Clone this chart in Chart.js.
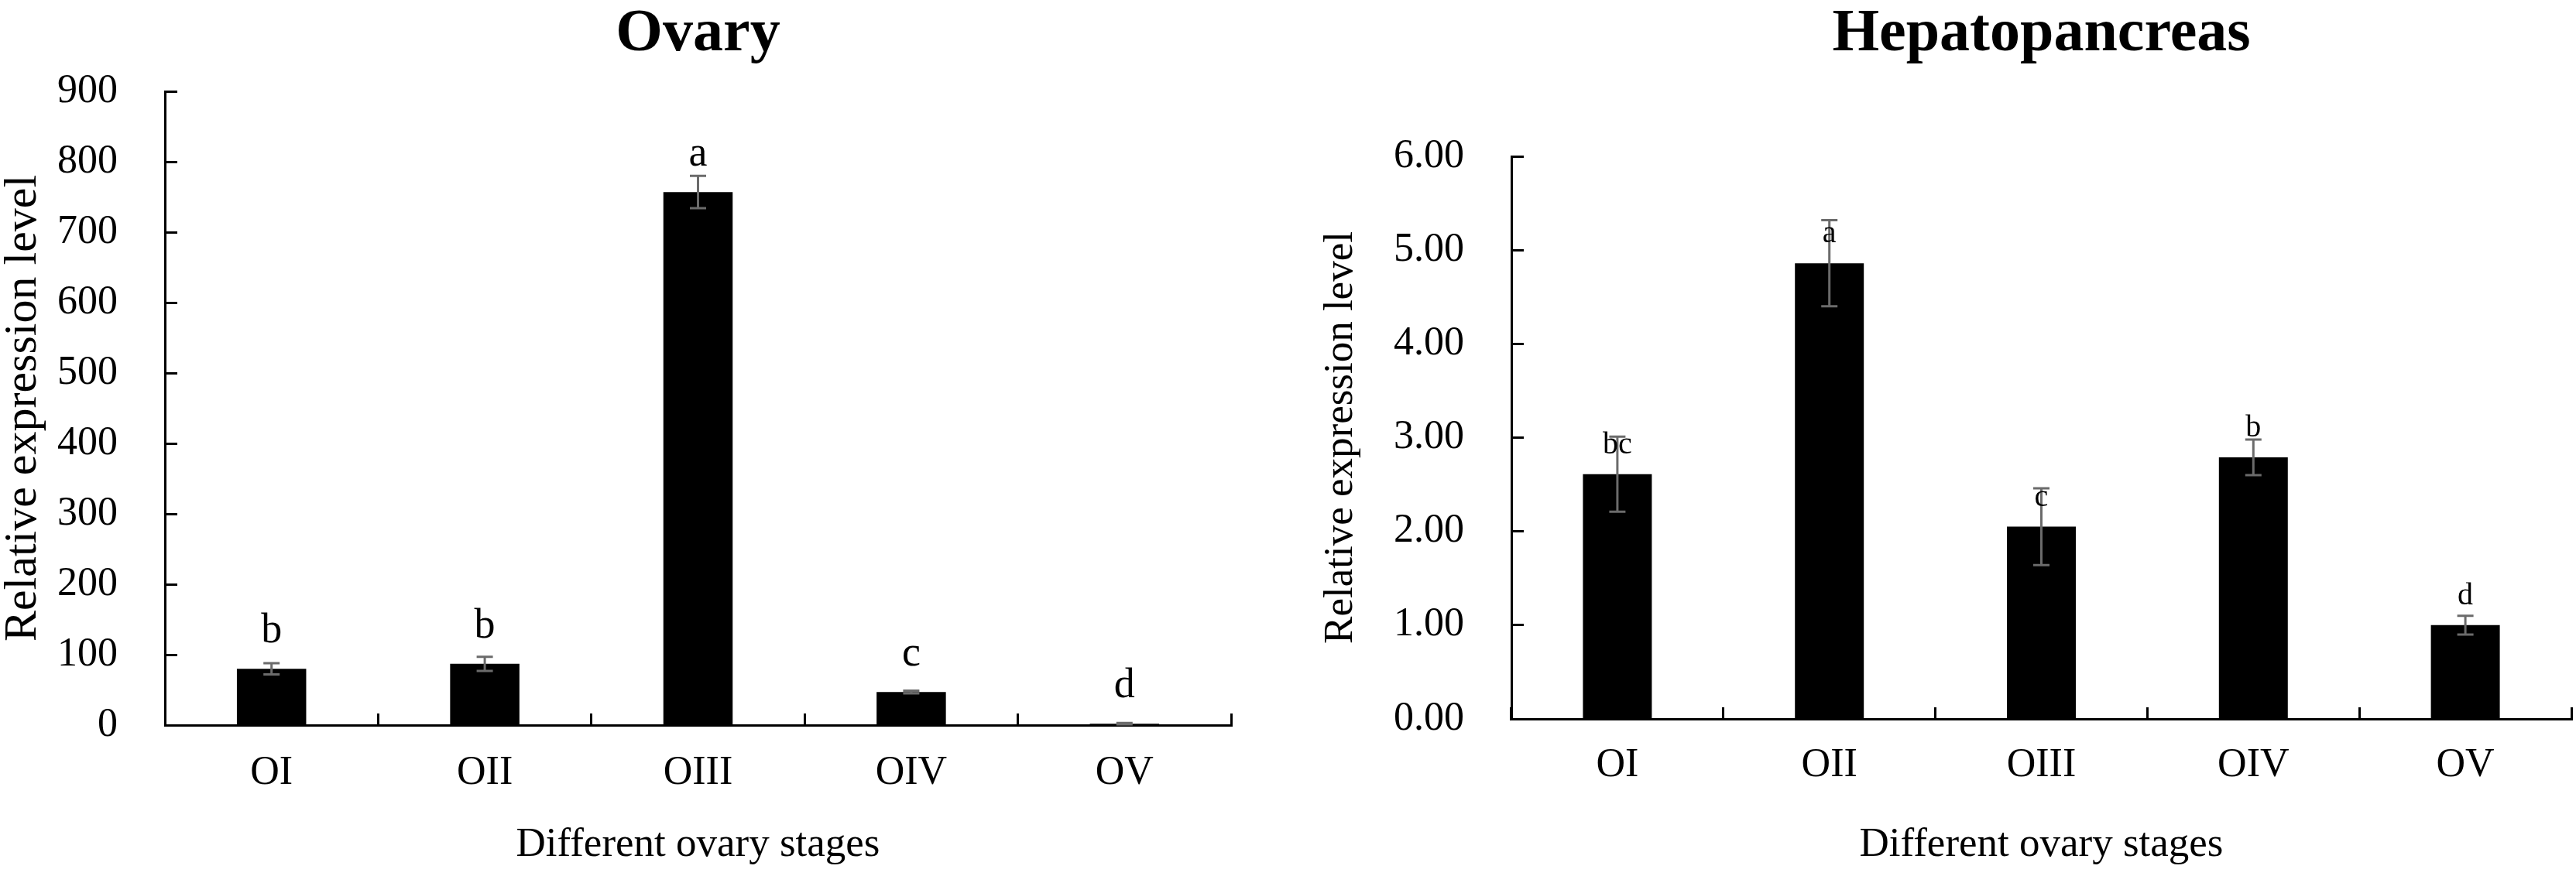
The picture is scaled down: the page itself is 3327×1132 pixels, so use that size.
<!DOCTYPE html>
<html><head><meta charset="utf-8">
<script src="https://cdn.jsdelivr.net/npm/chart.js@4.4.1/dist/chart.umd.min.js"></script>
<style>
html,body{margin:0;padding:0;background:#fff;}
#wrap{position:relative;width:3327px;height:1132px;background:#fff;}
.box{position:absolute;top:0;height:1132px;}
</style></head><body>
<div id="wrap">
<div class="box" style="left:0;width:1650px"><canvas id="c1"></canvas></div>
<div class="box" style="left:1650px;width:1677px"><canvas id="c2"></canvas></div>
</div>
<script>
const stages = ['OI', 'OII', 'OIII', 'OIV', 'OV'];

const ovaryMeans = [80, 87, 757, 47, 2];
const ovaryErrors = [8, 10, 23, 2, 1];
const ovaryLetters = ['b', 'b', 'a', 'c', 'd'];
const ovaryYTicks = [0, 100, 200, 300, 400, 500, 600, 700, 800, 900];

const hepatoMeans = [2.61, 4.86, 2.05, 2.79, 1.00];
const hepatoErrors = [0.40, 0.46, 0.41, 0.19, 0.10];
const hepatoLetters = ['bc', 'a', 'c', 'b', 'd'];
const hepatoYTicks = [0, 1, 2, 3, 4, 5, 6];

const SERIF = "'Liberation Serif', 'Times New Roman', Times, serif";

const errLetters = {
  id: 'errLetters',
  afterDatasetsDraw(chart, args, opts) {
    const {ctx, scales: {x, y}} = chart;
    const ds = chart.data.datasets[0];
    ctx.save();
    ds.data.forEach((v, i) => {
      const e = opts.errors[i];
      const cx = x.getPixelForValue(i);
      const yt = y.getPixelForValue(v + e);
      const yb = y.getPixelForValue(Math.max(0, v - e));
      ctx.strokeStyle = opts.color;
      ctx.lineWidth = opts.width;
      ctx.beginPath();
      ctx.moveTo(cx, yt); ctx.lineTo(cx, yb);
      ctx.moveTo(cx - opts.cap / 2, yt); ctx.lineTo(cx + opts.cap / 2, yt);
      ctx.moveTo(cx - opts.cap / 2, yb); ctx.lineTo(cx + opts.cap / 2, yb);
      ctx.stroke();
      ctx.font = opts.fontSize + 'px ' + SERIF;
      ctx.fillStyle = '#000';
      ctx.textAlign = 'center';
      ctx.textBaseline = 'alphabetic';
      ctx.fillText(opts.letters[i], cx, y.getPixelForValue(v) - opts.gap);
    });
    ctx.restore();
  }
};

function makeChart(id, p) {
  return new Chart(document.getElementById(id), {
    type: 'bar',
    data: {
      labels: stages,
      datasets: [{
        data: p.means,
        backgroundColor: '#000',
        borderWidth: 0,
        categoryPercentage: 1,
        barPercentage: 0.325
      }]
    },
    plugins: [errLetters],
    options: {
      responsive: true,
      maintainAspectRatio: false,
      animation: false,
      devicePixelRatio: 1,
      layout: {padding: {left: 0, right: p.padRight, top: 0, bottom: 0}},
      plugins: {
        legend: {display: false},
        tooltip: {enabled: false},
        title: {
          display: true,
          text: p.title,
          fullSize: false,
          color: '#000',
          font: {family: SERIF, size: 78, weight: 'bold', lineHeight: 1},
          padding: {top: 6, bottom: p.titleGap}
        },
        errLetters: {
          errors: p.errors, letters: p.letters, color: '#6b6b6b', width: 3, cap: 21,
          fontSize: p.letterSize, gap: p.letterGap
        }
      },
      scales: {
        x: {
          afterFit: s => { s.height = p.xHeight; },
          grid: {display: true, offset: true, drawOnChartArea: false, drawTicks: true,
                 tickLength: -15, tickWidth: 3, tickColor: '#000', color: '#000'},
          border: {display: true, color: '#000', width: 3},
          ticks: {color: '#000', font: {family: SERIF, size: 52}, padding: p.xPad, maxRotation: 0},
          title: {display: true, text: 'Different ovary stages', color: '#000',
                  font: {family: SERIF, size: 53, lineHeight: 1.2}, padding: {top: 0, bottom: 8}}
        },
        y: {
          min: p.yTicks[0],
          max: p.yTicks[p.yTicks.length - 1],
          afterFit: s => { s.width = p.yWidth; },
          grid: {display: true, drawOnChartArea: false, drawTicks: true,
                 tickLength: -16, tickWidth: 3, tickColor: '#000', color: '#000'},
          border: {display: true, color: '#000', width: 3},
          ticks: {
            color: '#000', font: {family: SERIF, size: 52}, padding: 77,
            stepSize: p.yTicks[1] - p.yTicks[0],
            callback: v => p.decimals ? Number(v).toFixed(p.decimals) : String(v)
          },
          title: {display: true, text: 'Relative expression level', color: '#000',
                  font: {family: SERIF, size: p.yTitleSize, lineHeight: 1},
                  padding: {top: p.yTitlePad, bottom: 0}}
        }
      }
    }
  });
}

makeChart('c1', {
  title: 'Ovary', means: ovaryMeans, errors: ovaryErrors, letters: ovaryLetters,
  yTicks: ovaryYTicks, decimals: 0, padRight: 60, titleGap: 34, xHeight: 195,
  yWidth: 213, xPad: 46, yTitleSize: 60, yTitlePad: 0, letterSize: 54, letterGap: 34
});
makeChart('c2', {
  title: 'Hepatopancreas', means: hepatoMeans, errors: hepatoErrors, letters: hepatoLetters,
  yTicks: hepatoYTicks, decimals: 2, padRight: 6, titleGap: 118, xHeight: 203,
  yWidth: 302, xPad: 44, yTitleSize: 53, yTitlePad: 56, letterSize: 40, letterGap: 27
});
</script>
</body></html>
